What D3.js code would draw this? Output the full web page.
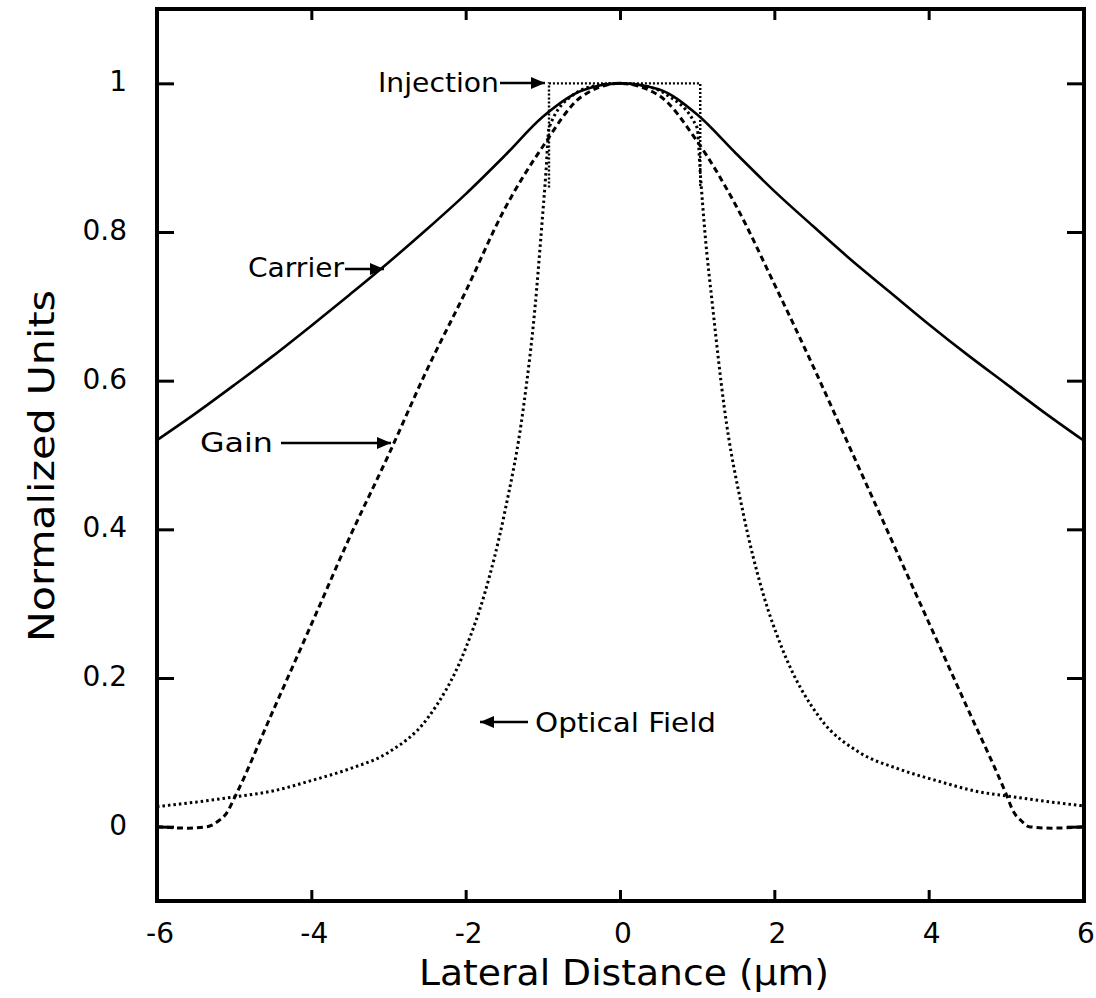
<!DOCTYPE html>
<html>
<head>
<meta charset="utf-8">
<script src="https://cdn.jsdelivr.net/npm/d3@7"></script>
<style>
  html, body { margin: 0; padding: 0; background: #fff; }
  svg { display: block; }
  text { font-family: "DejaVu Sans", sans-serif; fill: #000; }
</style>
</head>
<body>
<svg id="chart" width="1096" height="998"></svg>
<script>
// ---- data ----
const xTicks = [-6, -4, -2, 0, 2, 4, 6];
const yTicks = [0, 0.2, 0.4, 0.6, 0.8, 1];
const yTickLabels = ["0", "0.2", "0.4", "0.6", "0.8", "1"];

const carrierX = [-6,-5.5,-5,-4.5,-4,-3.5,-3,-2.5,-2,-1.5,-1,-0.5,0,0.5,1,1.5,2,2.5,3,3.5,4,4.5,5,5.5,6];
const carrierY = [0.52,0.556,0.594,0.633,0.674,0.716,0.759,0.804,0.851,0.902,0.955,0.99,1.0,0.992,0.958,0.906,0.855,0.808,0.762,0.719,0.676,0.635,0.596,0.557,0.52];

const gainX = [-6,-5.6,-5.35,-5.2,-5.1,-5,-4.5,-4,-3.5,-3,-2.5,-2,-1.5,-1,-0.5,0,0.5,1,1.5,2,2.5,3,3.5,4,4.5,5,5.1,5.2,5.3,5.6,6];
const gainY = [0,-0.002,0,0.008,0.018,0.038,0.155,0.272,0.39,0.5,0.615,0.72,0.83,0.915,0.982,1.0,0.984,0.922,0.836,0.73,0.62,0.505,0.39,0.275,0.16,0.045,0.02,0.008,0,-0.002,0];

const opticalX = [-6,-5.5,-5,-4.5,-4,-3.5,-3,-2.5,-2,-1.75,-1.5,-1.25,-1.1,-1.02,-0.96,-0.92,-0.6,-0.3,0,0.3,0.6,1.0,1.04,1.1,1.2,1.35,1.6,1.85,2.1,2.6,3.1,3.6,4.1,4.6,5.1,5.6,6];
const opticalY = [0.027,0.033,0.04,0.048,0.062,0.078,0.1,0.145,0.24,0.315,0.42,0.565,0.7,0.8,0.88,0.94,0.985,0.997,1.0,0.997,0.985,0.94,0.88,0.8,0.7,0.565,0.42,0.315,0.24,0.145,0.1,0.078,0.062,0.048,0.04,0.033,0.028];

const injectionX = [-0.92,-0.92,1.04,1.04];
const injectionY = [0.86,1,1,0.86];

const annLabels = ["Injection", "Carrier", "Gain", "Optical Field"];

// ---- layout ----
const svg = d3.select("#chart");
const L = 157, R = 1084, T = 9, B = 901;
const x = d3.scaleLinear().domain([-6, 6]).range([L, 1083]);
const y = d3.scaleLinear().domain([-0.1, 1.1]).range([B, T]);

const defs = svg.append("defs");
defs.append("marker").attr("id","ah").attr("viewBox","0 0 14 12")
  .attr("refX",14).attr("refY",6).attr("markerWidth",14).attr("markerHeight",12)
  .attr("markerUnits","userSpaceOnUse").attr("orient","auto")
  .append("path").attr("d","M0,0 L14,6 L0,12 Z").attr("fill","#000");

const zip = (xs, ys) => xs.map((v, i) => [v, ys[i]]);
const line = d3.line().x(d => x(d[0])).y(d => y(d[1])).curve(d3.curveMonotoneX);
const lineLin = d3.line().x(d => x(d[0])).y(d => y(d[1]));

const plot = svg.append("g");
plot.append("path").attr("d", line(zip(carrierX, carrierY)))
  .attr("fill","none").attr("stroke","#000").attr("stroke-width",2.6);
plot.append("path").attr("d", line(zip(gainX, gainY)))
  .attr("fill","none").attr("stroke","#000").attr("stroke-width",3)
  .attr("stroke-dasharray","6,4");
plot.append("path").attr("d", line(zip(opticalX, opticalY)))
  .attr("fill","none").attr("stroke","#000").attr("stroke-width",3)
  .attr("stroke-dasharray","2.5,3");
plot.append("path").attr("d", lineLin(zip(injectionX, injectionY)))
  .attr("fill","none").attr("stroke","#000").attr("stroke-width",2.4)
  .attr("stroke-dasharray","2,2");

// ---- axes ----
const ax = svg.append("g");
const xInner = xTicks.filter(v => v > -6 && v < 6);
ax.append("g").attr("transform",`translate(0,${B})`)
  .call(d3.axisBottom(x).tickValues(xInner).tickSize(-11).tickFormat(""))
  .call(g => g.select(".domain").remove())
  .call(g => g.selectAll("line").attr("stroke-width",3));
ax.append("g").attr("transform",`translate(0,${T})`)
  .call(d3.axisTop(x).tickValues(xInner).tickSize(-11).tickFormat(""))
  .call(g => g.select(".domain").remove())
  .call(g => g.selectAll("line").attr("stroke-width",3));
ax.append("g").attr("transform",`translate(${L},0)`)
  .call(d3.axisLeft(y).tickValues(yTicks).tickSize(-17).tickFormat(""))
  .call(g => g.select(".domain").remove())
  .call(g => g.selectAll("line").attr("stroke-width",3));
ax.append("g").attr("transform",`translate(${R},0)`)
  .call(d3.axisRight(y).tickValues(yTicks).tickSize(-17).tickFormat(""))
  .call(g => g.select(".domain").remove())
  .call(g => g.selectAll("line").attr("stroke-width",3));

svg.append("rect").attr("x",L).attr("y",T).attr("width",R-L).attr("height",B-T)
  .attr("fill","none").attr("stroke","#000").attr("stroke-width",4);

// tick labels
svg.append("g").selectAll("text").data(xTicks).join("text")
  .attr("x", d => x(d) + 3).attr("y", 943).attr("text-anchor","middle")
  .attr("font-size", 28).text(d => d < 0 ? "-" + Math.abs(d) : String(d));
svg.append("g").selectAll("text").data(yTicks).join("text")
  .attr("x", 127).attr("y", d => y(d) + 8).attr("text-anchor","end")
  .attr("font-size", 28).text((d, i) => yTickLabels[i]);

// axis titles
svg.append("text").attr("x", 624).attr("y", 985).attr("text-anchor","middle")
  .attr("font-size", 35).attr("textLength", 410).attr("lengthAdjust","spacingAndGlyphs")
  .text("Lateral Distance (\u00B5m)");
svg.append("text").attr("transform","translate(54,466) rotate(-90)").attr("text-anchor","middle")
  .attr("font-size", 35).attr("textLength", 352).attr("lengthAdjust","spacingAndGlyphs")
  .text("Normalized Units");

// annotations
const ann = [
  {t: annLabels[0], tx: 378, ty: 92, w: 121, ax1: 500, ax2: 545, ay: 83},
  {t: annLabels[1], tx: 248, ty: 277, w: 96, ax1: 345, ax2: 384, ay: 269},
  {t: annLabels[2], tx: 200, ty: 452, w: 73, ax1: 281, ax2: 391, ay: 443},
  {t: annLabels[3], tx: 535, ty: 732, w: 181, ax1: 528, ax2: 480, ay: 722}
];
const ag = svg.append("g");
ann.forEach(a => {
  ag.append("text").attr("x", a.tx).attr("y", a.ty).attr("font-size", 27)
    .attr("textLength", a.w).attr("lengthAdjust","spacingAndGlyphs").text(a.t);
  ag.append("line").attr("x1", a.ax1).attr("x2", a.ax2).attr("y1", a.ay).attr("y2", a.ay)
    .attr("stroke","#000").attr("stroke-width",2.5).attr("marker-end","url(#ah)");
});
</script>
</body>
</html>
